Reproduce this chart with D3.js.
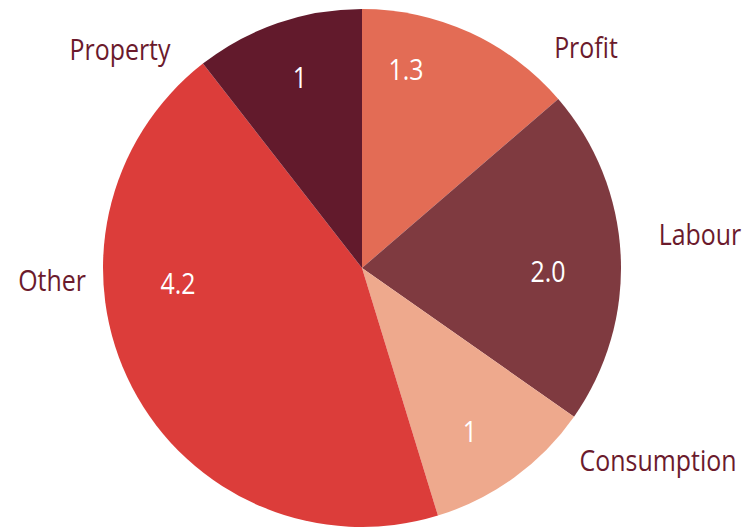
<!DOCTYPE html>
<html lang="en">
<head>
<meta charset="utf-8">
<title>Pie</title>
<script src="https://d3js.org/d3.v7.min.js"></script>
<style>
  body { margin: 0; background: #fff; }
  .name { fill: #6b1a2c; font-family: "Open Sans", sans-serif; font-size: 29px; }
  .val { fill: #fff; font-family: "Open Sans", sans-serif; font-size: 29px; }
</style>
</head>
<body>
<script>
// data, clockwise from 12 o'clock
var names = ["Profit", "Labour", "Consumption", "Other", "Property"];
var values = [1.3, 2.0, 1, 4.2, 1];
var valueText = ["1.3", "2.0", "1", "4.2", "1"];
var colors = ["#e36c55", "#7f3a40", "#eea98d", "#dc3d3a", "#621a2c"];

// hand placed label spots, relative to pie centre
var nameSpot = [[224, -220], [338, -33], [296, 193], [-310, 13], [-242, -218]];
var valSpot = [[44, -198], [186, 4], [108, 164], [-184, 16], [-62, -190]];

var width = 746, height = 527;
var cx = 362, cy = 268, r = 259;

var svg = d3.select("body").append("svg")
    .attr("width", width)
    .attr("height", height);

var g = svg.append("g")
    .attr("transform", "translate(" + cx + "," + cy + ")");

var pie = d3.pie().sort(null).value(function(d) { return d; });
var arc = d3.arc().innerRadius(0).outerRadius(r);

g.selectAll("path")
    .data(pie(values))
  .enter().append("path")
    .attr("d", arc)
    .attr("fill", function(d, i) { return colors[i]; });

g.selectAll("text.val")
    .data(valueText)
  .enter().append("text")
    .attr("class", "val")
    .attr("text-anchor", "middle")
    .attr("transform", function(d, i) {
        return "translate(" + valSpot[i][0] + "," + valSpot[i][1] + ") scale(0.86,1)";
    })
    .attr("dy", "0.36em")
    .text(function(d) { return d; });

g.selectAll("text.name")
    .data(names)
  .enter().append("text")
    .attr("class", "name")
    .attr("text-anchor", "middle")
    .attr("transform", function(d, i) {
        return "translate(" + nameSpot[i][0] + "," + nameSpot[i][1] + ") scale(0.86,1)";
    })
    .attr("dy", "0.36em")
    .text(function(d) { return d; });
</script>
</body>
</html>
